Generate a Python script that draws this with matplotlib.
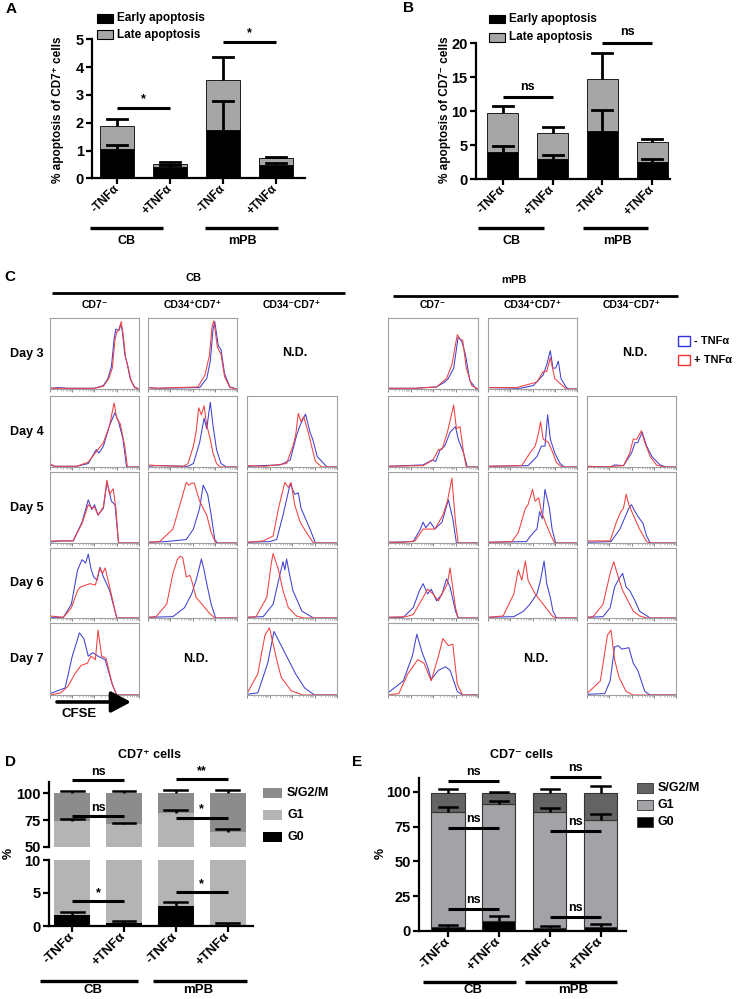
import numpy as np
import matplotlib
matplotlib.use('Agg')
import matplotlib.pyplot as plt
from matplotlib.lines import Line2D
from matplotlib.patches import Rectangle, FancyArrowPatch

plt.rcParams['font.family'] = ['Liberation Sans', 'DejaVu Sans']
plt.rcParams['font.weight'] = 'bold'

W, H = 736, 999

# ---------------- data ----------------
conditions = ['-TNFα', '+TNFα', '-TNFα', '+TNFα']
groups = ['CB', 'mPB']

# Panel A (CD7+ apoptosis)
a_early = [1.05, 0.40, 1.75, 0.47]
a_late = [0.82, 0.13, 1.77, 0.25]
a_early_err = [0.15, 0.08, 1.03, 0.07]
a_total_err = [0.25, 0.05, 0.85, 0.05]
a_yticks = [0, 1, 2, 3, 4, 5]
a_sig = [(0, 1, 2.52, '*'), (2, 3, 4.9, '*')]

# Panel B (CD7- apoptosis)
b_early = [4.06, 2.94, 7.1, 2.5]
b_late = [5.64, 3.82, 7.6, 3.03]
b_early_err = [0.84, 0.63, 3.1, 0.5]
b_total_err = [1.1, 0.89, 3.8, 0.47]
b_yticks = [0, 5, 10, 15, 20]
b_sig = [(0, 1, 12.1, 'ns'), (2, 3, 20.1, 'ns')]

# Panel D (CD7+ cell cycle)
d_g0 = [1.6, 0.5, 3.0, 0.2]
d_g1 = [72.9, 70.5, 78.2, 63.6]
d_s = [25.5, 29.0, 18.8, 36.2]
d_g0_err = [0.5, 0.3, 0.6, 0.3]
d_g1_err = [1.8, 1.5, 3.1, 2.6]
d_s_err = [2.0, 2.0, 3.0, 3.0]
d_top_yticks = [50, 75, 100]
d_bot_yticks = [0, 5, 10]
d_sig_top = [(0, 1, 112, 'ns'), (2, 3, 113, '**'), (0, 1, 79, 'ns'), (2, 3, 77.1, '*')]
d_sig_bot = [(0, 1, 3.8, '*'), (2, 3, 5.15, '*')]

# Panel E (CD7- cell cycle)
e_g0 = [2.6, 7.4, 2.0, 2.6]
e_g1 = [82.8, 83.7, 83.4, 77.3]
e_s = [13.6, 7.9, 14.1, 19.6]
e_g0_err = [1.7, 3.4, 1.3, 2.2]
e_g1_err = [4.0, 2.6, 2.8, 4.1]
e_s_err = [3.0, 1.0, 2.5, 4.8]
e_yticks = [0, 25, 50, 75, 100]
e_sig = [(0, 1, 108, 'ns'), (2, 3, 111, 'ns'), (0, 1, 74.3, 'ns'),
         (2, 3, 72, 'ns'), (0, 1, 16, 'ns'), (2, 3, 10, 'ns')]

# Panel C (CFSE histograms): (x fraction, relative count) points, blue = -TNFa, red = +TNFa
hist_cb_cd7neg_d3 = {
    'blue': [(0, .01), (.1, .02), (.2, .01), (.5, .01), (.6, .05), (.65, .15), (.69, .32), (.72, .72), (.74, .86), (.77, .84), (.79, .92), (.81, .86), (.84, .5), (.87, .35), (.9, .15), (.95, .03), (1, 0)],
    'red': [(0, .01), (.1, .01), (.5, .01), (.6, .04), (.66, .15), (.7, .3), (.73, .7), (.75, .82), (.78, .85), (.8, .97), (.82, .8), (.85, .45), (.88, .3), (.91, .12), (.95, .02), (1, 0)]}
hist_cb_cd7neg_d4 = {
    'blue': [(0, .03), (.05, .01), (.3, .01), (.43, .05), (.52, .25), (.55, .2), (.6, .3), (.67, .6), (.73, .78), (.77, .65), (.82, .4), (.86, 0), (1, 0)],
    'red': [(0, .05), (.05, .01), (.3, .01), (.43, .07), (.52, .22), (.6, .35), (.67, .6), (.72, .92), (.75, .7), (.79, .62), (.84, .3), (.87, 0), (1, 0)]}
hist_cb_cd7neg_d5 = {
    'blue': [(0, .01), (.1, .03), (.26, .03), (.36, .3), (.43, .62), (.47, .48), (.5, .55), (.54, .4), (.6, .5), (.64, .88), (.69, .6), (.73, .55), (.77, 0), (1, 0)],
    'red': [(0, .03), (.1, .03), (.26, .03), (.36, .28), (.43, .55), (.47, .5), (.5, .52), (.54, .4), (.6, .52), (.64, .9), (.67, .7), (.71, .78), (.74, .5), (.77, 0), (1, 0)]}
hist_cb_cd7neg_d6 = {
    'blue': [(0, .01), (.15, .01), (.24, .2), (.31, .7), (.36, .85), (.4, .8), (.43, .93), (.46, .72), (.49, .6), (.53, .55), (.56, .74), (.6, .6), (.67, .4), (.75, 0), (1, 0)],
    'red': [(0, .03), (.15, .01), (.24, .15), (.31, .4), (.34, .45), (.4, .48), (.45, .5), (.51, .48), (.56, .73), (.59, .65), (.62, .73), (.67, .45), (.75, 0), (1, 0)]}
hist_cb_cd7neg_d7 = {
    'blue': [(0, .02), (.17, .1), (.25, .55), (.3, .75), (.33, .88), (.38, .8), (.43, .55), (.48, .6), (.54, .55), (.62, .5), (.7, .15), (.75, 0), (1, 0)],
    'red': [(0, 0), (.12, .03), (.2, .12), (.28, .3), (.35, .42), (.42, .45), (.46, .55), (.51, .5), (.54, .92), (.58, .55), (.63, .52), (.7, .15), (.75, 0), (1, 0)]}
hist_cb_cd34p_d3 = {
    'blue': [(0, .02), (.1, .01), (.58, .02), (.66, .15), (.7, .4), (.73, .85), (.75, .97), (.79, .62), (.82, .57), (.86, .22), (.92, .03), (1, 0)],
    'red': [(0, .02), (.1, .01), (.56, .03), (.64, .2), (.69, .48), (.72, .9), (.74, .98), (.78, .6), (.82, .5), (.86, .18), (.92, .02), (1, 0)]}
hist_cb_cd34p_d4 = {
    'blue': [(0, .01), (.1, .02), (.45, .01), (.51, .05), (.58, .35), (.63, .7), (.66, .55), (.7, .93), (.73, .6), (.77, .25), (.82, .05), (.88, 0), (1, 0)],
    'red': [(0, .03), (.1, .02), (.4, .01), (.45, .05), (.51, .3), (.54, .5), (.57, .85), (.6, .75), (.63, .88), (.66, .6), (.7, .4), (.73, .2), (.77, .05), (.81, 0), (1, 0)]}
hist_cb_cd34p_d5 = {
    'blue': [(0, .01), (.2, .02), (.43, .05), (.51, .2), (.58, .5), (.62, .83), (.67, .7), (.71, .4), (.75, .05), (.78, 0), (1, 0)],
    'red': [(0, .01), (.13, .02), (.28, .2), (.37, .6), (.43, .87), (.46, .83), (.49, .86), (.52, .86), (.58, .6), (.66, .4), (.71, .15), (.76, 0), (1, 0)]}
hist_cb_cd34p_d6 = {
    'blue': [(0, .01), (.28, .02), (.41, .15), (.49, .35), (.54, .55), (.57, .7), (.6, .86), (.63, .7), (.66, .5), (.71, .2), (.76, 0), (1, 0)],
    'red': [(0, .01), (.09, .02), (.21, .2), (.28, .65), (.33, .85), (.36, .9), (.39, .88), (.43, .6), (.47, .62), (.49, .55), (.54, .3), (.62, .18), (.69, .07), (.75, 0), (1, 0)]}
hist_cb_cd34n_d4 = {
    'blue': [(0, .01), (.15, .02), (.37, .03), (.48, .1), (.55, .45), (.59, .6), (.65, .76), (.7, .5), (.73, .4), (.78, .15), (.89, 0), (1, 0)],
    'red': [(0, .02), (.2, .01), (.44, .05), (.51, .3), (.54, .45), (.57, .77), (.6, .65), (.63, .72), (.68, .5), (.76, .08), (.83, 0), (1, 0)]}
hist_cb_cd34n_d5 = {
    'blue': [(0, .01), (.25, .02), (.33, .05), (.4, .4), (.48, .85), (.53, .7), (.57, .72), (.6, .5), (.65, .35), (.7, .2), (.76, 0), (1, 0)],
    'red': [(0, .01), (.18, .03), (.29, .1), (.35, .5), (.42, .87), (.46, .8), (.49, .87), (.53, .55), (.59, .3), (.66, .15), (.74, 0), (1, 0)]}
hist_cb_cd34n_d6 = {
    'blue': [(0, .01), (.18, .02), (.29, .2), (.36, .6), (.4, .82), (.42, .7), (.44, .86), (.47, .65), (.51, .4), (.61, .1), (.74, 0), (1, 0)],
    'red': [(0, .01), (.1, .02), (.22, .3), (.27, .8), (.29, .94), (.35, .7), (.4, .4), (.46, .15), (.55, .03), (.63, 0), (1, 0)]}
hist_cb_cd34n_d7 = {
    'blue': [(0, .01), (.12, .03), (.23, .45), (.3, .9), (.38, .7), (.46, .5), (.54, .3), (.64, .1), (.75, 0), (1, 0)],
    'red': [(0, .02), (.12, .3), (.2, .85), (.25, .95), (.33, .5), (.38, .25), (.49, .06), (.62, 0), (1, 0)]}
hist_mpb_cd7neg_d3 = {
    'blue': [(0, .01), (.3, .01), (.54, .03), (.63, .1), (.67, .15), (.73, .3), (.78, .75), (.82, .68), (.86, .5), (.91, .12), (.98, 0), (1, 0)],
    'red': [(0, .01), (.3, .01), (.54, .03), (.65, .15), (.71, .35), (.77, .78), (.8, .72), (.83, .7), (.87, .3), (.93, .05), (1, 0)]}
hist_mpb_cd7neg_d4 = {
    'blue': [(0, .01), (.39, .03), (.49, .1), (.53, .08), (.58, .25), (.63, .3), (.69, .5), (.75, .58), (.78, .4), (.84, .2), (.88, 0), (1, 0)],
    'red': [(0, .01), (.39, .02), (.5, .1), (.56, .25), (.6, .25), (.66, .5), (.73, .89), (.76, .55), (.8, .58), (.84, .2), (.87, 0), (1, 0)]}
hist_mpb_cd7neg_d5 = {
    'blue': [(0, .01), (.28, .02), (.36, .2), (.39, .3), (.42, .22), (.47, .3), (.52, .2), (.6, .3), (.67, .62), (.72, .35), (.76, 0), (1, 0)],
    'red': [(0, .01), (.17, .01), (.3, .03), (.39, .2), (.45, .2), (.52, .2), (.61, .4), (.66, .6), (.71, .93), (.75, .3), (.78, 0), (1, 0)]}
hist_mpb_cd7neg_d6 = {
    'blue': [(0, .01), (.17, .01), (.28, .15), (.35, .4), (.39, .5), (.44, .35), (.48, .42), (.54, .25), (.6, .35), (.65, .57), (.69, .45), (.75, .1), (.78, 0), (1, 0)],
    'red': [(0, .01), (.2, .02), (.28, .05), (.39, .3), (.44, .42), (.5, .35), (.56, .25), (.62, .4), (.66, .5), (.69, .73), (.75, .15), (.78, 0), (1, 0)]}
hist_mpb_cd7neg_d7 = {
    'blue': [(0, .03), (.17, .2), (.27, .55), (.32, .86), (.38, .6), (.44, .4), (.48, .22), (.56, .35), (.64, .4), (.69, .35), (.77, .05), (.83, 0), (1, 0)],
    'red': [(0, 0), (.12, .02), (.22, .3), (.33, .5), (.4, .45), (.48, .2), (.56, .55), (.61, .8), (.67, .7), (.72, .72), (.77, .15), (.83, 0), (1, 0)]}
hist_mpb_cd34p_d3 = {
    'blue': [(0, .02), (.36, .01), (.51, .05), (.62, .2), (.66, .35), (.7, .55), (.73, .3), (.76, .3), (.79, .4), (.82, .15), (.88, .02), (.91, 0), (1, 0)],
    'red': [(0, .02), (.32, .02), (.55, .1), (.62, .25), (.66, .25), (.7, .45), (.75, .15), (.81, .08), (.88, 0), (1, 0)]}
hist_mpb_cd34p_d4 = {
    'blue': [(0, .01), (.45, .02), (.55, .15), (.6, .3), (.64, .3), (.67, .75), (.7, .4), (.75, .2), (.81, .05), (.86, 0), (1, 0)],
    'red': [(0, .01), (.38, .02), (.47, .2), (.53, .3), (.57, .5), (.59, .65), (.62, .4), (.68, .35), (.73, .2), (.77, .06), (.83, 0), (1, 0)]}
hist_mpb_cd34p_d5 = {
    'blue': [(0, .01), (.43, .02), (.51, .15), (.55, .2), (.58, .45), (.61, .35), (.64, .77), (.69, .5), (.72, .2), (.76, 0), (1, 0)],
    'red': [(0, .01), (.27, .02), (.34, .15), (.42, .5), (.45, .55), (.5, .77), (.53, .6), (.57, .65), (.6, .45), (.66, .25), (.71, .1), (.75, 0), (1, 0)]}
hist_mpb_cd34p_d6 = {
    'blue': [(0, .01), (.29, .02), (.4, .1), (.47, .2), (.55, .35), (.59, .55), (.63, .83), (.66, .5), (.7, .3), (.73, .1), (.77, 0), (1, 0)],
    'red': [(0, .01), (.17, .03), (.29, .35), (.34, .7), (.38, .55), (.42, .83), (.45, .55), (.49, .45), (.53, .35), (.56, .3), (.62, .2), (.68, .1), (.73, .02), (.77, 0), (1, 0)]}
hist_mpb_cd34n_d4 = {
    'blue': [(0, .01), (.26, 0), (.31, .03), (.41, .02), (.5, .2), (.54, .35), (.57, .35), (.62, .5), (.67, .3), (.73, .15), (.82, .03), (.89, 0), (1, 0)],
    'red': [(0, .01), (.18, 0), (.41, .02), (.48, .2), (.52, .4), (.56, .4), (.61, .52), (.65, .35), (.71, .15), (.78, .03), (.86, 0), (1, 0)]}
hist_mpb_cd34n_d5 = {
    'blue': [(0, .01), (.27, .02), (.37, .2), (.42, .35), (.47, .5), (.5, .55), (.54, .45), (.59, .35), (.63, .28), (.67, .1), (.71, 0), (1, 0)],
    'red': [(0, .03), (.18, .03), (.26, .03), (.33, .3), (.38, .45), (.41, .5), (.44, .7), (.47, .55), (.52, .4), (.59, .2), (.67, .02), (.71, 0), (1, 0)]}
hist_mpb_cd34n_d6 = {
    'blue': [(0, .01), (.18, .02), (.26, .15), (.31, .45), (.35, .55), (.4, .65), (.44, .45), (.48, .4), (.54, .25), (.59, .1), (.65, .05), (.71, 0), (1, 0)],
    'red': [(0, .01), (.07, .02), (.18, .2), (.26, .65), (.3, .82), (.35, .6), (.4, .4), (.44, .3), (.52, .1), (.59, .03), (.67, 0), (1, 0)]}
hist_mpb_cd34n_d7 = {
    'blue': [(0, .01), (.2, .02), (.26, .2), (.31, .68), (.35, .7), (.39, .65), (.47, .67), (.52, .45), (.57, .35), (.65, .05), (.71, 0), (1, 0)],
    'red': [(0, .02), (.15, .2), (.23, .85), (.27, .92), (.31, .5), (.36, .25), (.44, .05), (.52, 0), (1, 0)]}

c_days = ['Day 3', 'Day 4', 'Day 5', 'Day 6', 'Day 7']
c_subsets = ['CD7⁻', 'CD34⁺CD7⁺', 'CD34⁻CD7⁺']
# grid[group][subset][day] -> histogram (None = N.D.)
c_grid = {
    'CB': [[hist_cb_cd7neg_d3, hist_cb_cd7neg_d4, hist_cb_cd7neg_d5, hist_cb_cd7neg_d6, hist_cb_cd7neg_d7],
           [hist_cb_cd34p_d3, hist_cb_cd34p_d4, hist_cb_cd34p_d5, hist_cb_cd34p_d6, None],
           [None, hist_cb_cd34n_d4, hist_cb_cd34n_d5, hist_cb_cd34n_d6, hist_cb_cd34n_d7]],
    'mPB': [[hist_mpb_cd7neg_d3, hist_mpb_cd7neg_d4, hist_mpb_cd7neg_d5, hist_mpb_cd7neg_d6, hist_mpb_cd7neg_d7],
            [hist_mpb_cd34p_d3, hist_mpb_cd34p_d4, hist_mpb_cd34p_d5, hist_mpb_cd34p_d6, None],
            [None, hist_mpb_cd34n_d4, hist_mpb_cd34n_d5, hist_mpb_cd34n_d6, hist_mpb_cd34n_d7]],
}

# ---------------- helpers ----------------
fig = plt.figure(figsize=(W / 100, H / 100), dpi=100)


def px_axes(x0, y0, x1, y1):
    return fig.add_axes([x0 / W, 1 - y1 / H, (x1 - x0) / W, (y1 - y0) / H])


def ftext(x, y, s, **kw):
    kw.setdefault('ha', 'center')
    kw.setdefault('va', 'center')
    fig.text(x / W, 1 - y / H, s, **kw)


def fline(x0, x1, y, lw=2.2, color='k'):
    fig.add_artist(Line2D([x0 / W, x1 / W], [1 - y / H, 1 - y / H], lw=lw,
                          color=color, solid_capstyle='butt'))


def frect(x0, y0, x1, y1, fc, ec='k', lw=0.8):
    fig.add_artist(Rectangle((x0 / W, 1 - y1 / H), (x1 - x0) / W, (y1 - y0) / H,
                             transform=fig.transFigure, facecolor=fc, edgecolor=ec, lw=lw))


def style_bar_ax(ax, xlim, ylim, yticks, fs=10.5, lw=1.6):
    ax.set_xlim(xlim)
    ax.set_ylim(ylim)
    for s in ['top', 'right']:
        ax.spines[s].set_visible(False)
    for s in ['left', 'bottom']:
        ax.spines[s].set_linewidth(lw)
    ax.set_yticks(yticks)
    ax.tick_params(axis='both', width=lw, length=4, labelsize=fs, pad=2)
    ax.set_facecolor('none')


def stacked(ax, layers, colors, width, edge='k', elw=0.6):
    x = np.arange(len(layers[0]))
    bottom = np.zeros(len(x))
    tops = []
    for vals, col in zip(layers, colors):
        ax.bar(x, vals, width, bottom=bottom, color=col, edgecolor=edge, lw=elw, zorder=2)
        bottom = bottom + np.array(vals)
        tops.append(bottom.copy())
    return x, tops


def upper_err(ax, x, tops, errs, cap, lw=1.8):
    for xi, t, e in zip(x, tops, errs):
        ax.plot([xi, xi], [t, t + e], color='k', lw=lw, zorder=3, clip_on=False, solid_capstyle='butt')
        ax.plot([xi - cap, xi + cap], [t + e, t + e], color='k', lw=lw, zorder=3, clip_on=False)


def sig(ax, x0, x1, y, label, fs=9, lw=2.2, off=1.5):
    ax.plot([x0, x1], [y, y], color='k', lw=lw, clip_on=False, solid_capstyle='butt', zorder=4)
    ax.annotate(label, ((x0 + x1) / 2, y), xytext=(0, off), textcoords='offset points',
                ha='center', va='bottom', fontsize=fs, fontweight='bold', annotation_clip=False)


def xlabels(ax, fs):
    ax.set_xticks(np.arange(len(conditions)))
    ax.set_xticklabels(conditions, rotation=45, ha='right', va='center',
                       rotation_mode='anchor', fontsize=fs)


# ---------------- Panel A ----------------
ax = px_axes(92, 39.3, 305, 178.3)
style_bar_ax(ax, (-0.47, 3.55), (0, 5), a_yticks)
x, tops = stacked(ax, [a_early, a_late], ['black', '#a6a6a6'], 0.64)
upper_err(ax, x, tops[0], a_early_err, 0.19, lw=2)
upper_err(ax, x, tops[1], a_total_err, 0.19, lw=2)
for s in a_sig:
    sig(ax, *s, off=2)
xlabels(ax, 8.5)
ftext(11, 9, 'A', fontsize=11)
ftext(58, 110, '% apoptosis of CD7⁺ cells', rotation=90, fontsize=8.5)
frect(97, 14, 113, 23, 'black')
frect(97, 30, 113, 39, '#a6a6a6')
ftext(117, 18, 'Early apoptosis', ha='left', fontsize=8.5)
ftext(117, 35, 'Late apoptosis', ha='left', fontsize=8.5)
fline(90, 163, 228, lw=2.4)
fline(205, 278, 228, lw=2.4)
ftext(127, 241, groups[0], fontsize=9)
ftext(242, 241, groups[1], fontsize=9)

# ---------------- Panel B ----------------
ax = px_axes(476, 43.3, 670, 179.3)
style_bar_ax(ax, (-0.54, 3.36), (0, 20), b_yticks)
x, tops = stacked(ax, [b_early, b_late], ['black', '#a6a6a6'], 0.62)
upper_err(ax, x, tops[0], b_early_err, 0.2, lw=2)
upper_err(ax, x, tops[1], b_total_err, 0.2, lw=2)
for s in b_sig:
    sig(ax, *s, off=3)
xlabels(ax, 8.5)
ftext(408, 8, 'B', fontsize=11)
ftext(445, 110, '% apoptosis of CD7⁻ cells', rotation=90, fontsize=8.5)
frect(489, 15, 505, 23, 'black')
frect(489, 33, 505, 42, '#a6a6a6')
ftext(509, 19, 'Early apoptosis', ha='left', fontsize=8.5)
ftext(509, 37, 'Late apoptosis', ha='left', fontsize=8.5)
fline(478, 544, 228, lw=2.4)
fline(583, 648, 228, lw=2.4)
ftext(512, 241, groups[0], fontsize=9)
ftext(617, 241, groups[1], fontsize=9)

# ---------------- Panel C ----------------
ftext(10, 277, 'C', fontsize=11)
ftext(194, 278, groups[0], fontsize=8)
ftext(514, 280, groups[1], fontsize=8)
fline(52, 345, 293, lw=2)
fline(393, 678, 296, lw=2)
col_x = {'CB': [(50, 139), (148, 237), (247, 337)],
         'mPB': [(388, 478), (488, 577), (587, 676)]}
row_y = [(318, 389), (396, 467), (472, 543), (548, 618), (623, 695)]
for g in groups:
    for ci, (x0, x1) in enumerate(col_x[g]):
        ftext((x0 + x1) / 2, 305, c_subsets[ci], fontsize=7.5)
        for ri, (y0, y1) in enumerate(row_y):
            h = c_grid[g][ci][ri]
            if h is None:
                ftext((x0 + x1) / 2 + 3, (y0 + y1) / 2, 'N.D.', fontsize=9)
                continue
            hx = px_axes(x0, y0, x1, y1)
            for col, c in [('blue', '#4040d0'), ('red', '#f04040')]:
                xs, ys = zip(*h[col])
                hx.plot(xs, ys, color=c, lw=0.75)
            hx.set_xlim(0, 1)
            hx.set_ylim(0, 1.02)
            for s in hx.spines.values():
                s.set_color('#a0a0a0')
                s.set_linewidth(0.8)
            hx.set_yticks([])
            hx.set_xticks(np.linspace(0, 1, 5))
            hx.set_xticks([d / 4 + np.log10(k) / 4 for d in range(4) for k in range(2, 10)], minor=True)
            hx.set_xticklabels([])
            hx.tick_params(axis='x', which='major', length=2.2, width=0.6, color='#707070')
            hx.tick_params(axis='x', which='minor', length=1.2, width=0.4, color='#909090')
for ri, (y0, y1) in enumerate(row_y):
    ftext(27, (y0 + y1) / 2, c_days[ri], fontsize=9)
frect(678, 336, 690, 346, 'none', ec='#3030e0', lw=1)
frect(678, 355, 690, 365, 'none', ec='#f03030', lw=1)
ftext(694, 341, '- TNFα', ha='left', fontsize=8)
ftext(694, 360, '+ TNFα', ha='left', fontsize=8)
fig.add_artist(FancyArrowPatch((57 / W, 1 - 702 / H), (131 / W, 1 - 702 / H),
                               transform=fig.transFigure, arrowstyle='-|>,head_length=0.75,head_width=0.4',
                               mutation_scale=16, lw=2.6, color='k', shrinkA=0, shrinkB=0))
ftext(79, 714, 'CFSE', fontsize=9.5)

# ---------------- Panel D ----------------
d_cols = ['black', '#b4b4b4', '#8c8c8c']
ftext(10, 762, 'D', fontsize=11)
ftext(150, 755, 'CD7⁺ cells', fontsize=9)
axt = px_axes(49, 782, 253, 847)
style_bar_ax(axt, (-0.45, 3.49), (50, 110.2), d_top_yticks)
axt.spines['bottom'].set_visible(False)
axt.tick_params(axis='x', bottom=False, labelbottom=False)
x, tops = stacked(axt, [d_g0, d_g1, d_s], d_cols, 0.7, edge='none')
upper_err(axt, x, tops[1], d_g1_err, 0.22)
upper_err(axt, x, tops[2], d_s_err, 0.22)
for s in d_sig_top:
    sig(axt, *s, off=1.5)
axb = px_axes(49, 860, 253, 926)
style_bar_ax(axb, (-0.45, 3.49), (0, 10), d_bot_yticks)
x, tops = stacked(axb, [d_g0, d_g1, d_s], d_cols, 0.7, edge='none')
upper_err(axb, x, tops[0], d_g0_err, 0.22)
for s in d_sig_bot:
    sig(axb, *s, off=1.5)
xlabels(axb, 9.5)
ftext(9, 853, '%', rotation=90, fontsize=9)
for lab, yy, c in zip(['S/G2/M', 'G1', 'G0'], [793, 815, 837], d_cols[::-1]):
    frect(263, yy - 5, 282, yy + 5, c, ec='none')
    ftext(287, yy, lab, ha='left', fontsize=9)
fline(40, 138, 981, lw=2.4)
fline(153, 247, 981, lw=2.4)
ftext(93, 990, groups[0], fontsize=9.5)
ftext(198, 990, groups[1], fontsize=9.5)

# ---------------- Panel E ----------------
e_cols = ['black', '#a3a3a7', '#636363']
ftext(357, 762, 'E', fontsize=11)
ftext(522, 755, 'CD7⁻ cells', fontsize=9)
ax = px_axes(419, 778, 626, 931)
style_bar_ax(ax, (-0.57, 3.5), (0, 110), e_yticks)
x, tops = stacked(ax, [e_g0, e_g1, e_s], e_cols, 0.65, edge='#333333', elw=0.8)
upper_err(ax, x, tops[0], e_g0_err, 0.18)
upper_err(ax, x, tops[1], e_g1_err, 0.18)
upper_err(ax, x, tops[2], e_s_err, 0.18)
for s in e_sig:
    sig(ax, *s, off=2)
xlabels(ax, 9.5)
ftext(381, 853, '%', rotation=90, fontsize=9)
for lab, yy, c in zip(['S/G2/M', 'G1', 'G0'], [788, 805, 822], e_cols[::-1]):
    frect(637, yy - 5, 653, yy + 5, c, ec='#333333', lw=0.6)
    ftext(658, yy, lab, ha='left', fontsize=9)
fline(423, 516, 982, lw=2.4)
fline(525, 617, 982, lw=2.4)
ftext(473, 990, groups[0], fontsize=9.5)
ftext(573, 990, groups[1], fontsize=9.5)

fig.savefig('out.png', dpi=100)
